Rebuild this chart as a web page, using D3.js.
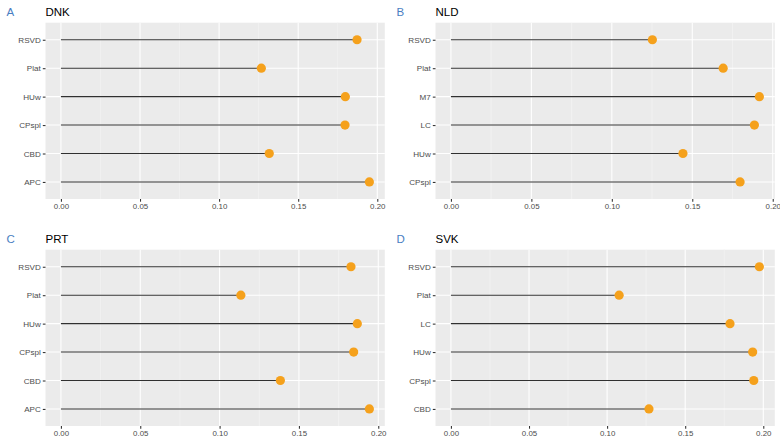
<!DOCTYPE html>
<html>
<head>
<meta charset="utf-8">
<script src="https://cdn.jsdelivr.net/npm/d3@7"></script>
<style>
  body { margin: 0; background: #fff; }
  svg { display: block; font-family: "Liberation Sans", Arial, sans-serif; }
</style>
</head>
<body>
<svg id="chart" width="780" height="443"></svg>
<script>
// ---- Data ----
const panelTags = ["A", "B", "C", "D"];
const panelTitles = ["DNK", "NLD", "PRT", "SVK"];

const dnkModels = ["RSVD", "Plat", "HUw", "CPspl", "CBD", "APC"];
const dnkValues = [0.1872, 0.1267, 0.1798, 0.1796, 0.1317, 0.1950];

const nldModels = ["RSVD", "Plat", "M7", "LC", "HUw", "CPspl"];
const nldValues = [0.1252, 0.1692, 0.1917, 0.1886, 0.1442, 0.1797];

const prtModels = ["RSVD", "Plat", "HUw", "CPspl", "CBD", "APC"];
const prtValues = [0.1828, 0.1134, 0.1868, 0.1845, 0.1383, 0.1944];

const svkModels = ["RSVD", "Plat", "LC", "HUw", "CPspl", "CBD"];
const svkValues = [0.1975, 0.1077, 0.1787, 0.1932, 0.1939, 0.1268];

const xTicks = [0, 0.05, 0.10, 0.15, 0.20];
const xMinorTicks = [0.025, 0.075, 0.125, 0.175];

const panels = [
  { tag: panelTags[0], title: panelTitles[0], cats: dnkModels, vals: dnkValues },
  { tag: panelTags[1], title: panelTitles[1], cats: nldModels, vals: nldValues },
  { tag: panelTags[2], title: panelTitles[2], cats: prtModels, vals: prtValues },
  { tag: panelTags[3], title: panelTitles[3], cats: svkModels, vals: svkValues }
];

// ---- Layout ----
const svg = d3.select("#chart");
const origins = [[0, 0], [390, 0], [0, 227], [390, 227]];
const plotL = 45.5, plotR = 384.8, plotT = 22.7, plotB = 199;

panels.forEach((p, i) => {
  const [ox, oy] = origins[i];
  const g = svg.append("g").attr("transform", `translate(${ox},${oy})`);

  const maxV = d3.max(p.vals);
  const lo = Math.min(0, d3.min(p.vals));
  const pad = (maxV - lo) * 0.05;
  const x = d3.scaleLinear().domain([lo - pad, maxV + pad]).range([plotL, plotR]);
  const y = d3.scalePoint().domain(p.cats).range([plotT, plotB]).padding(0.6);

  // background
  g.append("rect")
    .attr("x", plotL).attr("y", plotT)
    .attr("width", plotR - plotL).attr("height", plotB - plotT)
    .attr("fill", "#EBEBEB");

  // minor grid
  g.selectAll(".minor").data(xMinorTicks).enter().append("line")
    .attr("x1", d => x(d)).attr("x2", d => x(d))
    .attr("y1", plotT).attr("y2", plotB)
    .attr("stroke", "#F5F5F5").attr("stroke-width", 0.55);

  // major grid x
  g.selectAll(".majorx").data(xTicks).enter().append("line")
    .attr("x1", d => x(d)).attr("x2", d => x(d))
    .attr("y1", plotT).attr("y2", plotB)
    .attr("stroke", "#FFFFFF").attr("stroke-width", 1.07);

  // major grid y
  g.selectAll(".majory").data(p.cats).enter().append("line")
    .attr("x1", plotL).attr("x2", plotR)
    .attr("y1", d => y(d)).attr("y2", d => y(d))
    .attr("stroke", "#FFFFFF").attr("stroke-width", 1.07);

  // segments
  g.selectAll(".seg").data(p.cats).enter().append("line")
    .attr("x1", x(0)).attr("x2", (d, j) => x(p.vals[j]))
    .attr("y1", d => y(d)).attr("y2", d => y(d))
    .attr("stroke", "#303030").attr("stroke-width", 1.1);

  // points
  g.selectAll(".pt").data(p.cats).enter().append("circle")
    .attr("cx", (d, j) => x(p.vals[j])).attr("cy", d => y(d))
    .attr("r", 4.6)
    .attr("fill", "#F5A11C");

  // x axis
  const xAxis = g.append("g").attr("transform", `translate(0,${plotB})`)
    .call(d3.axisBottom(x).tickValues(xTicks).tickFormat(d3.format(".2f")).tickSize(2.7).tickPadding(2));
  xAxis.select(".domain").remove();
  xAxis.selectAll("line").attr("stroke", "#333333").attr("stroke-width", 1.07);
  xAxis.selectAll("text").attr("fill", "#4D4D4D").attr("font-size", 7.9)
    .attr("font-family", "Liberation Sans, Arial, sans-serif");

  // y axis
  const yAxis = g.append("g").attr("transform", `translate(${plotL},0)`)
    .call(d3.axisLeft(y).tickSize(2.7).tickPadding(2));
  yAxis.select(".domain").remove();
  yAxis.selectAll("line").attr("stroke", "#333333").attr("stroke-width", 1.07);
  yAxis.selectAll("text").attr("fill", "#4D4D4D").attr("font-size", 8.1)
    .attr("font-family", "Liberation Sans, Arial, sans-serif");

  // title
  g.append("text").attr("x", plotL).attr("y", 16)
    .attr("font-size", 11.5).attr("fill", "#000")
    .text(p.title);

  // tag
  g.append("text").attr("x", 6.5).attr("y", 16)
    .attr("font-size", 11.5).attr("fill", "#4A7EC2")
    .text(p.tag);
});
</script>
</body>
</html>
